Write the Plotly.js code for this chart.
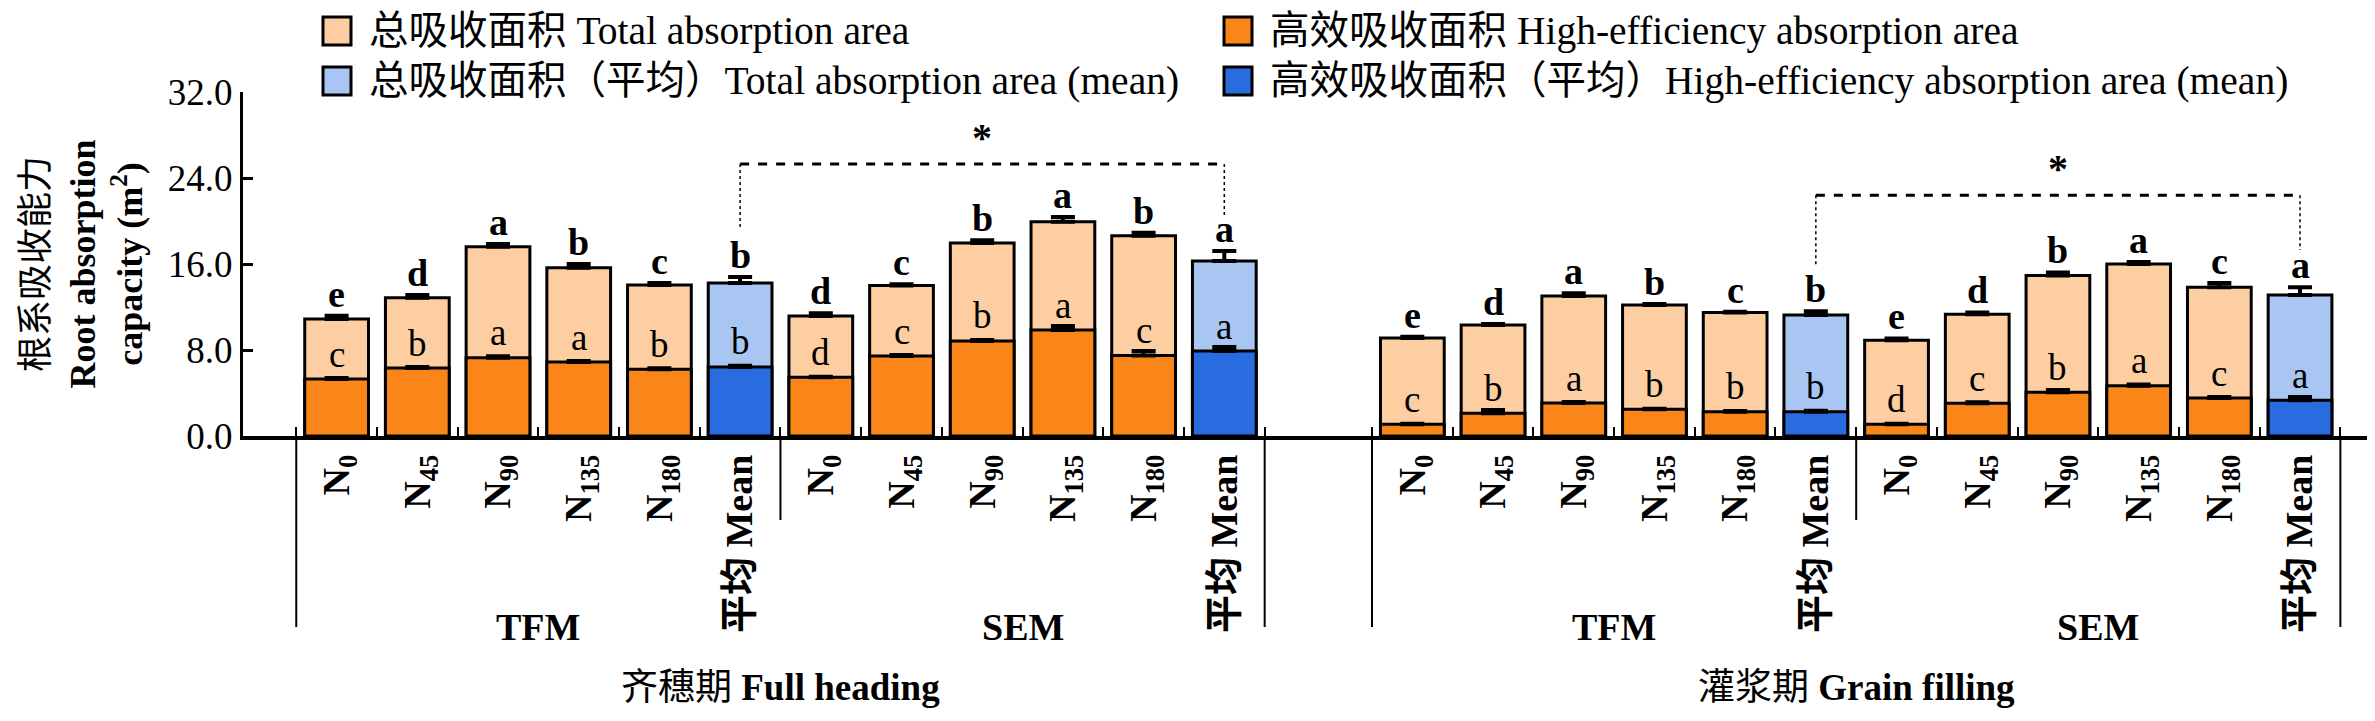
<!DOCTYPE html>
<html>
<head>
<meta charset="utf-8">
<script src="https://cdn.plot.ly/plotly-3.0.1.min.js"></script>
<style>
  html, body { margin: 0; padding: 0; background: #fff; }
  #chart { width: 2375px; height: 721px; }
</style>
</head>
<body>
<div id="chart"></div>
<script>
// tick labels, one block of six per fertilization mode
const treatments = ["N<sub>0</sub>", "N<sub>45</sub>", "N<sub>90</sub>", "N<sub>135</sub>", "N<sub>180</sub>", "平均 Mean"];
const modes = ["TFM", "SEM"];
const stages = ["齐穗期 <b>Full heading</b>", "灌浆期 <b>Grain filling</b>"];

// block order in every array: Full heading TFM, Full heading SEM, Grain filling TFM, Grain filling SEM
// the 6th value of a block is the mean of the five N rates
const totalArea = [
  10.88, 12.86, 17.60, 15.65, 14.04, 14.23,
  11.16, 14.00, 17.95, 19.93, 18.63, 16.28,
  9.11, 10.32, 13.02, 12.18, 11.50, 11.25,
  8.90, 11.32, 14.94, 16.00, 13.83, 13.11
];
const totalErr = [
  0.30, 0.25, 0.26, 0.35, 0.20, 0.56,
  0.25, 0.12, 0.25, 0.44, 0.27, 0.92,
  0.12, 0.10, 0.25, 0.10, 0.06, 0.35,
  0.18, 0.18, 0.28, 0.18, 0.40, 0.72
];
const highArea = [
  5.30, 6.32, 7.28, 6.88, 6.20, 6.42,
  5.46, 7.44, 8.84, 9.86, 7.50, 7.90,
  1.09, 2.11, 3.07, 2.48, 2.26, 2.26,
  1.09, 3.04, 4.06, 4.68, 3.53, 3.32
];
const highErr = [
  0.10, 0.10, 0.15, 0.10, 0.10, 0.12,
  0.06, 0.10, 0.10, 0.37, 0.40, 0.38,
  0.06, 0.30, 0.10, 0.06, 0.06, 0.08,
  0.06, 0.10, 0.22, 0.10, 0.10, 0.31
];
const totalLetters = [
  "e", "d", "a", "b", "c", "b",
  "d", "c", "b", "a", "b", "a",
  "e", "d", "a", "b", "c", "b",
  "e", "d", "b", "a", "c", "a"
];
const highLetters = [
  "c", "b", "a", "a", "b", "b",
  "d", "c", "b", "a", "c", "a",
  "c", "b", "a", "b", "b", "b",
  "d", "c", "b", "a", "c", "a"
];

// significance between the two means of each stage
const bracketLevel = [25.3, 22.4];
const bracketFoot = [[19.3, 20.4], [15.9, 17.3]];

const legendNames = [
  "总吸收面积 Total absorption area",
  "高效吸收面积 High-efficiency absorption area",
  "总吸收面积（平均）Total absorption area (mean)",
  "高效吸收面积（平均）High-efficiency absorption area (mean)"
];
const colors = ["#FDCEA2", "#FA8619", "#A9C6F2", "#286CE0"];

const FONT = '"Liberation Serif", "Noto Sans CJK SC", serif';
const STAGE_GAP = 1.33;
const BAR_W = 0.79;

const slotX = (k) => {
  const block = Math.floor(k / 6);
  const stage = Math.floor(block / 2);
  const mode = block % 2;
  return stage * (12 + STAGE_GAP) + mode * 6 + (k % 6);
};

const isMean = (k) => k % 6 === 5;
const allIdx = totalArea.map((_, k) => k);
const plainIdx = allIdx.filter((k) => !isMean(k));
const meanIdx = allIdx.filter(isMean);

const pick = (arr, idx) => idx.map((k) => arr[k]);

const makeBar = (name, color, values, errs, idx) => ({
  type: "bar",
  name: name,
  x: idx.map(slotX),
  y: pick(values, idx),
  width: BAR_W,
  marker: { color: color, line: { color: "#000", width: 3 } },
  error_y: {
    type: "data",
    symmetric: false,
    array: pick(errs, idx),
    arrayminus: idx.map(() => 0),
    color: "#000",
    thickness: 4,
    width: 12,
  },
  showlegend: false,
  hoverinfo: "skip",
});

const traces = [
  makeBar(legendNames[0], colors[0], totalArea, totalErr, plainIdx),
  makeBar(legendNames[1], colors[1], highArea, highErr, plainIdx),
  makeBar(legendNames[2], colors[2], totalArea, totalErr, meanIdx),
  makeBar(legendNames[3], colors[3], highArea, highErr, meanIdx),
];

// plot area in pixels, used to place the hand made legend
const M = { l: 243, r: 8, t: 92, b: 285 };
const plotW = 2375 - M.l - M.r;
const plotH = 721 - M.t - M.b;
const px = (x) => (x - M.l) / plotW;
const py = (y) => (721 - M.b - y) / plotH;

const annotations = [];
const shapes = [];

allIdx.forEach((k) => {
  annotations.push({
    x: slotX(k), y: totalArea[k] + totalErr[k], yshift: 22,
    xref: "x", yref: "y", yanchor: "middle", showarrow: false,
    text: totalLetters[k],
    font: { family: FONT, size: 38, color: "#000", weight: "bold" },
  });
  annotations.push({
    x: slotX(k), y: highArea[k], yshift: 25,
    xref: "x", yref: "y", yanchor: "middle", showarrow: false,
    text: highLetters[k],
    font: { family: FONT, size: 37, color: "#000" },
  });
});

// group dividers, mode and stage labels
stages.forEach((stage, s) => {
  const first = slotX(s * 12);
  const mid = slotX(s * 12 + 6);
  const last = slotX(s * 12 + 11);
  [first - 0.5, last + 0.5].forEach((xv) => {
    shapes.push({ type: "line", xref: "x", yref: "paper", x0: xv, x1: xv, y0: 0, y1: py(627),
      line: { color: "#000", width: 2 } });
  });
  shapes.push({ type: "line", xref: "x", yref: "paper", x0: mid - 0.5, x1: mid - 0.5, y0: 0, y1: py(520),
    line: { color: "#000", width: 2 } });
  modes.forEach((mode, m) => {
    annotations.push({
      x: slotX(s * 12 + m * 6) + 2.5, y: py(627), xref: "x", yref: "paper",
      yanchor: "middle", showarrow: false, text: mode,
      font: { family: FONT, size: 38, color: "#000", weight: "bold" },
    });
  });
  annotations.push({
    x: (first + last) / 2, y: py(687), xref: "x", yref: "paper",
    yanchor: "middle", showarrow: false, text: stage,
    font: { family: FONT, size: 37, color: "#000" },
  });

  // bracket between TFM mean and SEM mean
  const xa = slotX(s * 12 + 5);
  const xb = slotX(s * 12 + 11);
  const lvl = bracketLevel[s];
  shapes.push({ type: "line", xref: "x", yref: "y", x0: xa, x1: xb, y0: lvl, y1: lvl,
    line: { color: "#000", width: 3, dash: "dash" } });
  shapes.push({ type: "line", xref: "x", yref: "y", x0: xa, x1: xa, y0: lvl, y1: bracketFoot[s][0],
    line: { color: "#000", width: 1.5, dash: "dot" } });
  shapes.push({ type: "line", xref: "x", yref: "y", x0: xb, x1: xb, y0: lvl, y1: bracketFoot[s][1],
    line: { color: "#000", width: 1.5, dash: "dot" } });
  annotations.push({
    x: (xa + xb) / 2, y: lvl + 3, yshift: -6, xref: "x", yref: "y", yanchor: "middle", showarrow: false,
    text: "*", font: { family: FONT, size: 40, color: "#000", weight: "bold" },
  });
});

// legend: two rows, two columns
const legCol = [323, 1224];
const legRow = [31, 81];
legendNames.forEach((name, n) => {
  const x0 = legCol[n % 2];
  const yc = legRow[Math.floor(n / 2)];
  shapes.push({ type: "rect", xref: "paper", yref: "paper",
    x0: px(x0), x1: px(x0 + 28), y0: py(yc - 14), y1: py(yc + 14),
    fillcolor: colors[n], line: { color: "#000", width: 3 } });
  annotations.push({
    x: px(x0 + 44), y: py(yc), xref: "paper", yref: "paper",
    xanchor: "left", yanchor: "middle", showarrow: false, text: name,
    font: { family: FONT, size: 39.5, color: "#000" },
  });
});

const tickVals = allIdx.map(slotX);
const tickText = allIdx.map((k) => treatments[k % 6]);
const minorVals = [];
[0, 12].forEach((start) => {
  for (let i = 0; i < 12; i++) minorVals.push(slotX(start + i) - 0.5);
  minorVals.push(slotX(start + 11) + 0.5);
});

const layout = {
  width: 2375,
  height: 721,
  margin: M,
  paper_bgcolor: "#fff",
  plot_bgcolor: "#fff",
  barmode: "overlay",
  showlegend: false,
  font: { family: FONT, color: "#000" },
  xaxis: {
    range: [-1.16, -1.16 + plotW / 80.7],
    tickmode: "array",
    tickvals: tickVals,
    ticktext: tickText,
    tickangle: -90,
    ticks: "",
    tickfont: { family: FONT, size: 38, color: "#000", weight: "bold" },
    minor: { tickmode: "array", tickvals: minorVals, ticks: "inside", ticklen: 9, tickwidth: 2, tickcolor: "#000" },
    showline: true,
    linewidth: 3.5,
    linecolor: "#000",
    showgrid: false,
    zeroline: false,
  },
  yaxis: {
    range: [0, 32],
    tickmode: "array",
    tickvals: [0, 8, 16, 24, 32],
    tickformat: ".1f",
    ticks: "inside",
    ticklen: 10,
    tickwidth: 3,
    tickcolor: "#000",
    tickfont: { family: FONT, size: 37, color: "#000" },
    showline: true,
    linewidth: 3,
    linecolor: "#000",
    showgrid: false,
    zeroline: false,
    title: {
      text: "根系吸收能力<br><b>Root absorption</b><br><b>capacity (m<sup>2</sup>)</b>",
      font: { family: FONT, size: 36, color: "#000" },
      standoff: 15,
    },
  },
  annotations: annotations,
  shapes: shapes,
};

Plotly.newPlot("chart", traces, layout, { displayModeBar: false, staticPlot: true });
</script>
</body>
</html>
